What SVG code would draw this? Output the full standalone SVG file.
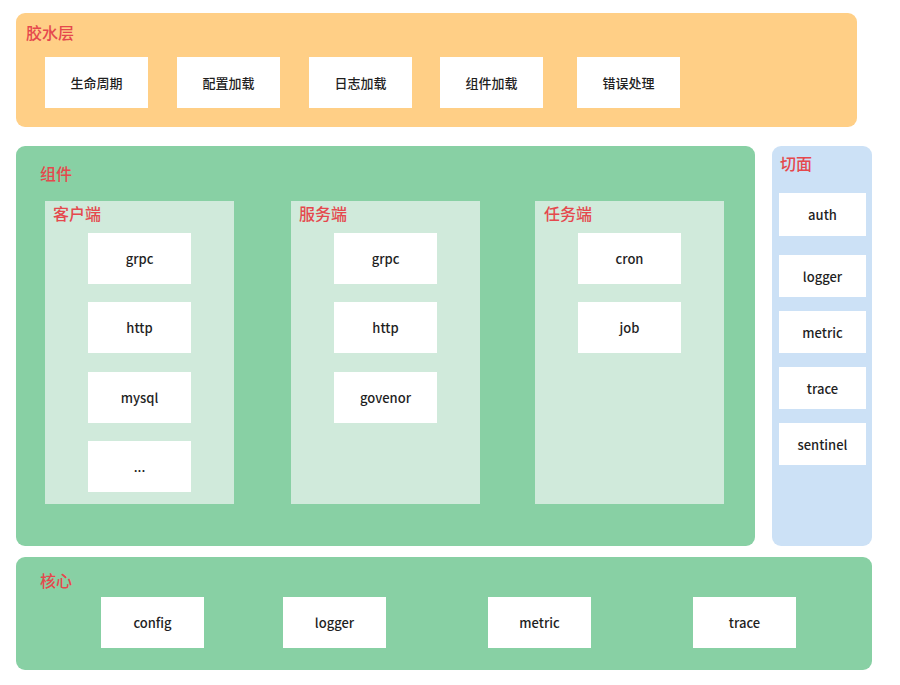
<svg xmlns="http://www.w3.org/2000/svg" width="900" height="685" viewBox="0 0 900 685">
<style>
.t{font-family:"Noto Sans CJK SC","Noto Sans",sans-serif;font-size:16px;fill:#e5484d;font-weight:500}
.b{fill:#ffffff}
.l{font-family:"Noto Sans CJK SC","Open Sans","Noto Sans",sans-serif;font-size:13px;fill:#1f1f1f;font-weight:500;text-anchor:middle;dominant-baseline:central}
.sub{fill:#d0eadb}
</style>
<rect width="900" height="685" fill="#ffffff"/>
<g id="glue">
<rect x="16" y="13" width="841" height="114" rx="9" fill="#ffcf86"/>
<text class="t" x="26" y="39">胶水层</text>
</g>
<g id="g-lifecycle"><rect class="b" x="45" y="57" width="103" height="51"/><text class="l" x="96.5" y="82">生命周期</text></g>
<g id="g-config"><rect class="b" x="177" y="57" width="103" height="51"/><text class="l" x="228.5" y="82">配置加载</text></g>
<g id="g-log"><rect class="b" x="309" y="57" width="103" height="51"/><text class="l" x="360.5" y="82">日志加载</text></g>
<g id="g-comp"><rect class="b" x="440" y="57" width="103" height="51"/><text class="l" x="491.5" y="82">组件加载</text></g>
<g id="g-err"><rect class="b" x="577" y="57" width="103" height="51"/><text class="l" x="628.5" y="82">错误处理</text></g>

<g id="components">
<rect x="16" y="146" width="739" height="400" rx="9" fill="#88d0a4"/>
<text class="t" x="40" y="180">组件</text>
</g>
<g id="client">
<rect class="sub" x="45" y="201" width="189" height="303"/>
<text class="t" x="53" y="220">客户端</text>
</g>
<g id="c-grpc"><rect class="b" x="88" y="233" width="103" height="51"/><text class="l" x="139.5" y="258.5">grpc</text></g>
<g id="c-http"><rect class="b" x="88" y="302" width="103" height="51"/><text class="l" x="139.5" y="327.5">http</text></g>
<g id="c-mysql"><rect class="b" x="88" y="372" width="103" height="51"/><text class="l" x="139.5" y="397.5">mysql</text></g>
<g id="c-more"><rect class="b" x="88" y="441" width="103" height="51"/><text class="l" x="139.5" y="466.5">...</text></g>

<g id="server">
<rect class="sub" x="291" y="201" width="189" height="303"/>
<text class="t" x="299" y="220">服务端</text>
</g>
<g id="s-grpc"><rect class="b" x="334" y="233" width="103" height="51"/><text class="l" x="385.5" y="258.5">grpc</text></g>
<g id="s-http"><rect class="b" x="334" y="302" width="103" height="51"/><text class="l" x="385.5" y="327.5">http</text></g>
<g id="s-govenor"><rect class="b" x="334" y="372" width="103" height="51"/><text class="l" x="385.5" y="397.5">govenor</text></g>

<g id="task">
<rect class="sub" x="535" y="201" width="189" height="303"/>
<text class="t" x="544" y="220">任务端</text>
</g>
<g id="t-cron"><rect class="b" x="578" y="233" width="103" height="51"/><text class="l" x="629.5" y="258.5">cron</text></g>
<g id="t-job"><rect class="b" x="578" y="302" width="103" height="51"/><text class="l" x="629.5" y="327.5">job</text></g>

<g id="aspect">
<rect x="772" y="146" width="100" height="400" rx="9" fill="#cce1f6"/>
<text class="t" x="780" y="170">切面</text>
</g>
<g id="a-auth"><rect class="b" x="779" y="193" width="87" height="43"/><text class="l" x="822.5" y="214.5">auth</text></g>
<g id="a-logger"><rect class="b" x="779" y="255" width="87" height="42"/><text class="l" x="822.5" y="276">logger</text></g>
<g id="a-metric"><rect class="b" x="779" y="311" width="87" height="42"/><text class="l" x="822.5" y="332">metric</text></g>
<g id="a-trace"><rect class="b" x="779" y="367" width="87" height="42"/><text class="l" x="822.5" y="388">trace</text></g>
<g id="a-sentinel"><rect class="b" x="779" y="423" width="87" height="42"/><text class="l" x="822.5" y="444">sentinel</text></g>

<g id="core">
<rect x="16" y="557" width="856" height="113" rx="9" fill="#88d0a4"/>
<text class="t" x="40" y="587">核心</text>
</g>
<g id="k-config"><rect class="b" x="101" y="597" width="103" height="51"/><text class="l" x="152.5" y="622.5">config</text></g>
<g id="k-logger"><rect class="b" x="283" y="597" width="103" height="51"/><text class="l" x="334.5" y="622.5">logger</text></g>
<g id="k-metric"><rect class="b" x="488" y="597" width="103" height="51"/><text class="l" x="539.5" y="622.5">metric</text></g>
<g id="k-trace"><rect class="b" x="693" y="597" width="103" height="51"/><text class="l" x="744.5" y="622.5">trace</text></g>
<g id="connectors"></g>
</svg>
